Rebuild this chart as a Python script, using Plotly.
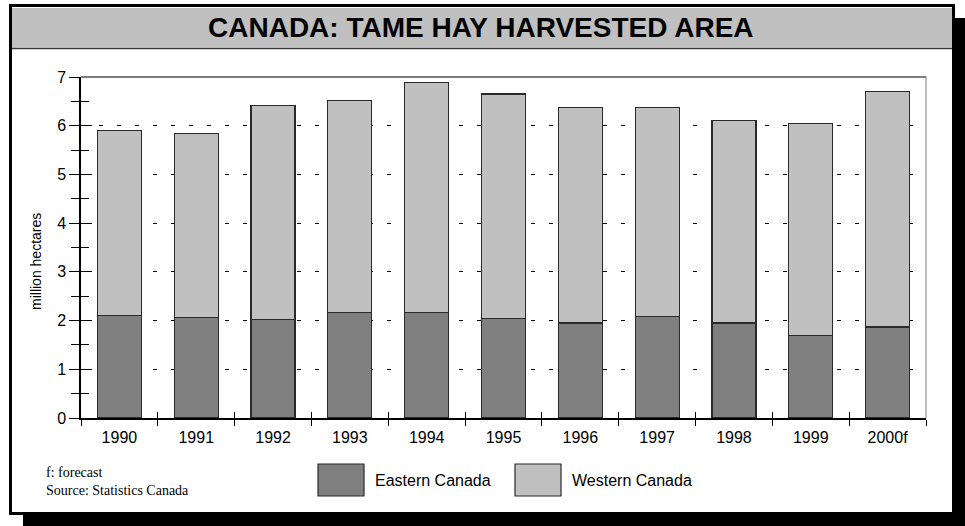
import plotly.graph_objects as go

# ---------------- data ----------------
years = ["1990", "1991", "1992", "1993", "1994", "1995", "1996", "1997", "1998", "1999", "2000f"]
eastern = [2.11, 2.07, 2.03, 2.16, 2.16, 2.05, 1.95, 2.09, 1.95, 1.70, 1.87]
western = [3.79, 3.77, 4.38, 4.35, 4.72, 4.60, 4.43, 4.28, 4.15, 4.35, 4.84]
series_names = ["Eastern Canada", "Western Canada"]
series_colors = ["#808080", "#C0C0C0"]
title_text = "CANADA: TAME HAY HARVESTED AREA"
y_title = "million hectares"
notes = ["f: forecast", "Source: Statistics Canada"]

# ---------------- geometry ----------------
W, H = 965, 526
L, R, T, B = 81, 39, 77, 108
PW, PH = W - L - R, H - T - B


def px(x):
    return (x - L) / PW


def py(y):
    return 1 - (y - T) / PH


SANS = "Liberation Sans, Arial, sans-serif"
SERIF = "Liberation Serif, Times New Roman, serif"

fig = go.Figure()
for name, vals, col in zip(series_names, [eastern, western], series_colors):
    fig.add_trace(go.Bar(
        x=years, y=vals, name=name,
        marker=dict(color=col, line=dict(color="#2a2a2a", width=1.2)),
        showlegend=False,
    ))

# invisible helper trace for the overlay axes (inside ticks)
fig.add_trace(go.Scatter(x=[-0.5, len(years) - 0.5], y=[0, 7], xaxis="x2", yaxis="y2",
                         mode="markers", marker=dict(opacity=0), showlegend=False,
                         hoverinfo="skip"))

shapes = []
# shadow
shapes.append(dict(type="rect", xref="paper", yref="paper", layer="below",
                   x0=px(23), x1=px(965), y0=py(18), y1=py(526),
                   fillcolor="black", line=dict(width=0)))
# frame
shapes.append(dict(type="rect", xref="paper", yref="paper", layer="below",
                   x0=px(9), x1=px(955), y0=py(4), y1=py(515),
                   fillcolor="black", line=dict(width=0)))
shapes.append(dict(type="rect", xref="paper", yref="paper", layer="below",
                   x0=px(12), x1=px(952), y0=py(7), y1=py(512),
                   fillcolor="white", line=dict(width=0)))
# title band
shapes.append(dict(type="rect", xref="paper", yref="paper", layer="below",
                   x0=px(12), x1=px(952), y0=py(8), y1=py(47.5),
                   fillcolor="#C0C0C0", line=dict(width=0)))
shapes.append(dict(type="line", xref="paper", yref="paper", layer="below",
                   x0=px(12), x1=px(952), y0=py(48.5), y1=py(48.5),
                   line=dict(color="#3a3a3a", width=1.6)))
# plot top / right borders
shapes.append(dict(type="line", xref="paper", yref="paper",
                   x0=0, x1=1, y0=1, y1=1, line=dict(color="#505050", width=1.5)))
shapes.append(dict(type="line", xref="paper", yref="paper",
                   x0=1, x1=1, y0=0, y1=1, line=dict(color="#808080", width=1)))

annotations = []
annotations.append(dict(text=f"<b>{title_text}</b>", xref="paper", yref="paper",
                        x=px(481), y=py(27.5), showarrow=False, xanchor="center", yanchor="middle",
                        font=dict(family=SANS, size=28, color="black")))
annotations.append(dict(text=y_title, xref="paper", yref="paper", textangle=-90,
                        x=px(36), y=py(262), showarrow=False, xanchor="center", yanchor="middle",
                        font=dict(family=SANS, size=14, color="black")))
annotations.append(dict(text=notes[0], xref="paper", yref="paper",
                        x=px(44), y=py(472), showarrow=False, xanchor="left", yanchor="middle",
                        font=dict(family=SERIF, size=14, color="black")))
annotations.append(dict(text=notes[1], xref="paper", yref="paper",
                        x=px(44), y=py(490), showarrow=False, xanchor="left", yanchor="middle",
                        font=dict(family=SERIF, size=14, color="black")))

# legend (manual, large swatches)
leg_x = [318, 515]
for i, (name, col) in enumerate(zip(series_names, series_colors)):
    x0 = leg_x[i]
    shapes.append(dict(type="rect", xref="paper", yref="paper",
                       x0=px(x0), x1=px(x0 + 46), y0=py(464), y1=py(496),
                       fillcolor=col, line=dict(color="#2a2a2a", width=1.2)))
    annotations.append(dict(text=name, xref="paper", yref="paper",
                            x=px(x0 + 55), y=py(480), showarrow=False,
                            xanchor="left", yanchor="middle",
                            font=dict(family=SANS, size=16, color="black")))

fig.update_layout(
    width=W, height=H,
    margin=dict(l=L, r=R, t=T, b=B, pad=0),
    paper_bgcolor="white", plot_bgcolor="rgba(0,0,0,0)",
    barmode="stack", bargap=0.427,
    showlegend=False,
    shapes=shapes, annotations=annotations,
    font=dict(family=SANS, size=16, color="black"),
    xaxis=dict(type="category", range=[-0.5, len(years) - 0.5],
               tickson="boundaries", ticks="outside", ticklen=6, tickwidth=1.2,
               tickcolor="black", showline=True, linecolor="black", linewidth=1.5,
               showgrid=False, tickfont=dict(family=SANS, size=16, color="black"),
               ticklabelstandoff=4, fixedrange=True),
    yaxis=dict(range=[0, 7], dtick=1, tick0=0, ticks="outside", ticklen=10, tickwidth=1.2,
               tickcolor="black", showline=True, linecolor="black", linewidth=1.5,
               showgrid=True, gridcolor="black", gridwidth=1, griddash="4px,14px",
               zeroline=False, tickfont=dict(family=SANS, size=16, color="black"),
               minor=dict(dtick=0.5, ticks="outside", ticklen=8, tickwidth=1.2,
                          tickcolor="black", showgrid=False),
               fixedrange=True),
    xaxis2=dict(overlaying="x", anchor="y2", range=[-0.5, len(years) - 0.5],
                tickvals=[i + 0.5 for i in range(len(years))], ticks="inside", ticklen=6,
                tickwidth=1.2, tickcolor="black", showticklabels=False, showgrid=False,
                showline=False, zeroline=False, side="bottom", fixedrange=True),
    yaxis2=dict(overlaying="y", anchor="x2", range=[0, 7], dtick=1, tick0=0,
                ticks="inside", ticklen=11, tickwidth=1.2, tickcolor="black",
                showticklabels=False, showgrid=False, showline=False, zeroline=False,
                side="left",
                minor=dict(dtick=0.5, ticks="inside", ticklen=8, tickwidth=1.2,
                           tickcolor="black", showgrid=False),
                fixedrange=True),
)

fig.write_html("out.html", config={"displayModeBar": False})
